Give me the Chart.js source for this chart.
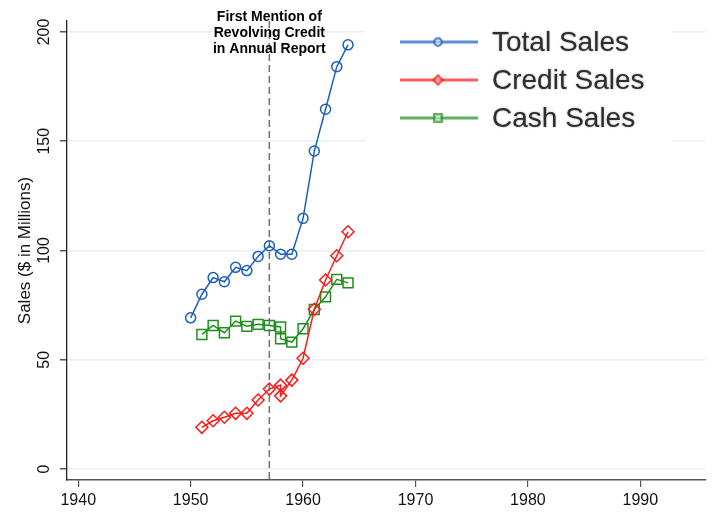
<!DOCTYPE html>
<html>
<head>
<meta charset="utf-8">
<script src="https://cdn.jsdelivr.net/npm/chart.js@4/dist/chart.umd.min.js"></script>
<style>
html, body { margin: 0; padding: 0; background: #fff; }
</style>
</head>
<body>
<canvas id="c" width="714" height="531"></canvas>
<script>
// data
const years = [1950, 1951, 1952, 1953, 1954, 1955, 1956, 1957, 1958, 1959, 1960, 1961, 1962, 1963, 1964];
const totalSales = [69.2, 80.0, 87.6, 85.7, 92.3, 90.8, 97.3, 102.2, 98.3, 98.3, 114.7, 145.5, 164.6, 184.1, 194.1];

// credit / cash start in 1951 and have two 1958 observations
const splitYears = [1951, 1952, 1953, 1954, 1955, 1956, 1957, 1958, 1958, 1959, 1960, 1961, 1962, 1963, 1964];
const creditSales = [19.1, 22.1, 23.7, 25.5, 25.5, 31.6, 36.6, 38.4, 33.5, 40.7, 50.7, 73.1, 86.5, 97.6, 108.6];
const cashSales = [61.6, 65.7, 62.4, 67.7, 65.3, 66.2, 65.7, 65.0, 59.6, 58.1, 64.2, 73.0, 78.8, 86.8, 85.2];

const xTicks = [1940, 1950, 1960, 1970, 1980, 1990];
const yTicks = [0, 50, 100, 150, 200];
const markerYear = 1957;
const noteLines = ['First Mention of', 'Revolving Credit', 'in Annual Report'];

const FONT = "'Liberation Sans', Arial, Helvetica, sans-serif";
const BLUE = '#1b5fbd', RED = '#ff1a1a', GREEN = '#1e8f1e';

const pts = (xs, ys) => xs.map((x, i) => ({x: x, y: ys[i]}));

function series(label, data, color, style, radius) {
    return {
        label, data,
        borderColor: color,
        borderWidth: 1.5,
        backgroundColor: 'rgba(0,0,0,0)',
        pointStyle: style,
        pointRadius: radius,
        pointBorderWidth: 1.5,
        pointBorderColor: color,
        pointBackgroundColor: 'rgba(0,0,0,0)',
        tension: 0
    };
}

const datasets = [
    series('Total Sales', pts(years, totalSales), BLUE, 'circle', 5),
    series('Credit Sales', pts(splitYears, creditSales), RED, 'rectRot', 6),
    series('Cash Sales', pts(splitYears, cashSales), GREEN, 'rect', 7)
];

// dashed line at the first mention year
const markerLine = {
    id: 'markerLine',
    beforeDatasetsDraw(chart) {
        const {ctx, chartArea, scales} = chart;
        const x = scales.x.getPixelForValue(markerYear);
        ctx.save();
        ctx.strokeStyle = '#707070';
        ctx.lineWidth = 1.5;
        ctx.setLineDash([7, 4]);
        ctx.beginPath();
        ctx.moveTo(x, chartArea.top);
        ctx.lineTo(x, chartArea.bottom);
        ctx.stroke();
        ctx.restore();
    },
    afterDraw(chart) {
        const {ctx, scales} = chart;
        const x = scales.x.getPixelForValue(markerYear);
        ctx.save();
        ctx.font = 'bold 14px ' + FONT;
        ctx.fillStyle = '#000';
        ctx.textAlign = 'center';
        ctx.textBaseline = 'middle';
        noteLines.forEach((t, i) => ctx.fillText(t, x, 17 + i * 16));
        ctx.restore();
    }
};

// y tick labels are vertical in the reference
const yLabels = {
    id: 'yLabels',
    afterDraw(chart) {
        const {ctx, scales} = chart;
        ctx.save();
        ctx.font = '16px ' + FONT;
        ctx.fillStyle = '#111';
        ctx.textAlign = 'center';
        ctx.textBaseline = 'middle';
        yTicks.forEach(v => {
            const y = scales.y.getPixelForValue(v);
            ctx.save();
            ctx.translate(45, y);
            ctx.rotate(-Math.PI / 2);
            ctx.fillText(String(v), 0, 0);
            ctx.restore();
        });
        ctx.restore();
    }
};

const legendBox = {
    id: 'legendBox',
    afterDraw(chart) {
        const {ctx} = chart;
        ctx.save();
        ctx.fillStyle = '#fff';
        ctx.fillRect(365, 20, 307, 130);
        chart.data.datasets.forEach((ds, i) => {
            const y = 42 + i * 38;
            ctx.globalAlpha = 0.7;
            ctx.strokeStyle = ds.borderColor;
            ctx.lineWidth = 3;
            ctx.beginPath();
            ctx.moveTo(400, y);
            ctx.lineTo(478, y);
            ctx.stroke();
            ctx.fillStyle = 'rgba(255,255,255,0.6)';
            ctx.lineWidth = 2.5;
            Chart.helpers.drawPoint(ctx, {
                pointStyle: ds.pointStyle,
                radius: ds.pointRadius * 0.75,
                borderWidth: 2.5
            }, 438, y);
            ctx.globalAlpha = 1;
            ctx.font = '28px ' + FONT;
            ctx.fillStyle = '#2e2e2e';
            ctx.textAlign = 'left';
            ctx.textBaseline = 'middle';
            ctx.shadowColor = 'rgba(0,0,0,0.4)';
            ctx.shadowBlur = 2;
            ctx.fillText(ds.label, 492, y + 1);
            ctx.shadowBlur = 0;
        });
        ctx.restore();
    }
};

new Chart(document.getElementById('c'), {
    type: 'line',
    data: {datasets},
    options: {
        responsive: false,
        animation: false,
        devicePixelRatio: 1,
        layout: {padding: {top: 21, right: 8, left: 0, bottom: 0}},
        plugins: {legend: {display: false}, tooltip: {enabled: false}},
        scales: {
            x: {
                type: 'linear',
                min: 1939,
                max: 1995.8,
                afterBuildTicks: s => { s.ticks = xTicks.map(v => ({value: v})); },
                afterFit: s => { s.height = 51; },
                grid: {drawOnChartArea: false, drawTicks: true, tickLength: 7, tickColor: '#555', lineWidth: 1.2},
                border: {color: '#555', width: 1.5},
                ticks: {font: {size: 16, family: FONT}, color: '#111', padding: 4, maxRotation: 0,
                        callback: v => String(v)}
            },
            y: {
                min: -5,
                max: 205,
                afterBuildTicks: s => { s.ticks = yTicks.map(v => ({value: v})); },
                afterFit: s => { s.width = 67; },
                grid: {color: '#e8eef2', lineWidth: 1.5, tickLength: 7, tickColor: '#555'},
                border: {color: '#222', width: 1.3},
                ticks: {display: false},
                title: {display: true, text: 'Sales ($ in Millions)', color: '#111',
                        font: {size: 17, family: FONT}, padding: {top: 15, bottom: 0}}
            }
        }
    },
    plugins: [markerLine, yLabels, legendBox]
});
</script>
</body>
</html>
